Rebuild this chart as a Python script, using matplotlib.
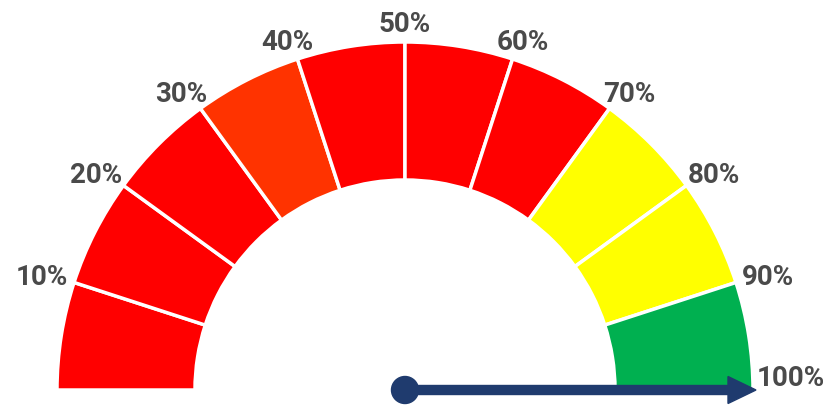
import numpy as np
import matplotlib
matplotlib.use("Agg")
from matplotlib import pyplot as plt
from matplotlib.patches import Wedge, Circle

# gauge data
segments = [10, 10, 10, 10, 10, 10, 10, 10, 10, 10]
seg_colors = ["#FF0000", "#FF0000", "#FF0000", "#FF3300", "#FF0000",
              "#FF0000", "#FF0000", "#FFFF00", "#FFFF00", "#00B050"]
labels = ["10%", "20%", "30%", "40%", "50%", "60%", "70%", "80%", "90%", "100%"]
needle_value = 100

# layout (pixel units)
W, H = 824, 410
cx, cy = 405, 19
r_out, r_in = 348, 210

fig = plt.figure(figsize=(W / 100, H / 100), dpi=100)
ax = fig.add_axes([0, 0, 1, 1])
ax.set_xlim(0, W)
ax.set_ylim(0, H)
ax.axis("off")

total = sum(segments)
bounds = np.cumsum([0] + segments)
for i in range(len(segments)):
    a1 = 180 - 180 * bounds[i] / total
    a2 = 180 - 180 * bounds[i + 1] / total
    ax.add_patch(Wedge((cx, cy), r_out, a2, a1, width=r_out - r_in,
                       facecolor=seg_colors[i], edgecolor="white", linewidth=2.5))

# labels placed outside each boundary
for i, lab in enumerate(labels):
    ang = np.deg2rad(180 - 180 * bounds[i + 1] / total)
    px = cx + r_out * np.cos(ang)
    py = cy + r_out * np.sin(ang)
    dy = np.sin(ang) * (11 + 7)
    if lab == "100%":
        # last label sits just right of the needle tip, a bit raised
        ax.text(px + 4, py + 12, lab, ha="left", va="center",
                fontsize=20, fontweight="bold", color="#4A4A4A", family="Roboto")
        continue
    w = 15 * len(lab) + 4
    dx = np.cos(ang) * (w / 2 + 9)
    ax.text(px + dx, py + dy, lab, ha="center", va="center",
            fontsize=20, fontweight="bold", color="#4A4A4A", family="Roboto")

# needle
nang = np.deg2rad(180 - 180 * needle_value / total)
L = 351
ax.arrow(cx, cy, L * np.cos(nang), L * np.sin(nang), width=9,
         head_width=27, head_length=28, length_includes_head=True,
         color="#1F3B6E", zorder=5)
ax.add_patch(Circle((cx, cy), 13.5, color="#1F3B6E", zorder=6))

plt.savefig("out.png", dpi=100)
